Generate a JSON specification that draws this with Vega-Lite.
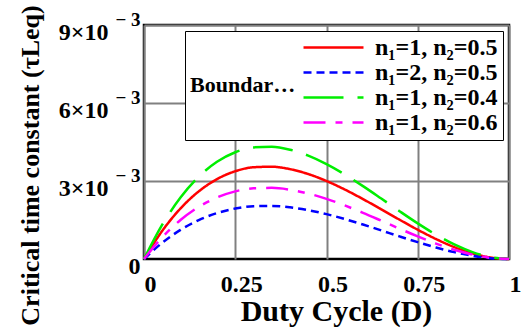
{
  "$schema": "https://vega.github.io/schema/vega-lite/v6.json",
  "width": 365,
  "height": 234,
  "autosize": {"type": "none"},
  "padding": {"left": 144, "top": 25, "right": 21, "bottom": 69},
  "background": "white",
  "config": {"view": {"stroke": "black", "strokeWidth": 2.5}},
  "data": {"values": [
    {"D":0,"t":0,"s":"n₁=1, n₂=0.5"},{"D":0.05,"t":0.001083,"s":"n₁=1, n₂=0.5"},{"D":0.1,"t":0.001944,"s":"n₁=1, n₂=0.5"},{"D":0.15,"t":0.002601,"s":"n₁=1, n₂=0.5"},{"D":0.2,"t":0.003072,"s":"n₁=1, n₂=0.5"},{"D":0.25,"t":0.003375,"s":"n₁=1, n₂=0.5"},{"D":0.3,"t":0.003528,"s":"n₁=1, n₂=0.5"},{"D":0.35,"t":0.003549,"s":"n₁=1, n₂=0.5"},{"D":0.4,"t":0.003456,"s":"n₁=1, n₂=0.5"},{"D":0.45,"t":0.003267,"s":"n₁=1, n₂=0.5"},{"D":0.5,"t":0.003,"s":"n₁=1, n₂=0.5"},{"D":0.55,"t":0.002673,"s":"n₁=1, n₂=0.5"},{"D":0.6,"t":0.002304,"s":"n₁=1, n₂=0.5"},{"D":0.65,"t":0.001911,"s":"n₁=1, n₂=0.5"},{"D":0.7,"t":0.001512,"s":"n₁=1, n₂=0.5"},{"D":0.75,"t":0.001125,"s":"n₁=1, n₂=0.5"},{"D":0.8,"t":0.000768,"s":"n₁=1, n₂=0.5"},{"D":0.85,"t":0.000459,"s":"n₁=1, n₂=0.5"},{"D":0.9,"t":0.000216,"s":"n₁=1, n₂=0.5"},{"D":0.95,"t":0.000057,"s":"n₁=1, n₂=0.5"},{"D":1,"t":0,"s":"n₁=1, n₂=0.5"},
    {"D":0,"t":0,"s":"n₁=2, n₂=0.5"},{"D":0.05,"t":0.000623,"s":"n₁=2, n₂=0.5"},{"D":0.1,"t":0.001118,"s":"n₁=2, n₂=0.5"},{"D":0.15,"t":0.001496,"s":"n₁=2, n₂=0.5"},{"D":0.2,"t":0.001766,"s":"n₁=2, n₂=0.5"},{"D":0.25,"t":0.001941,"s":"n₁=2, n₂=0.5"},{"D":0.3,"t":0.002029,"s":"n₁=2, n₂=0.5"},{"D":0.35,"t":0.002041,"s":"n₁=2, n₂=0.5"},{"D":0.4,"t":0.001987,"s":"n₁=2, n₂=0.5"},{"D":0.45,"t":0.001879,"s":"n₁=2, n₂=0.5"},{"D":0.5,"t":0.001725,"s":"n₁=2, n₂=0.5"},{"D":0.55,"t":0.001537,"s":"n₁=2, n₂=0.5"},{"D":0.6,"t":0.001325,"s":"n₁=2, n₂=0.5"},{"D":0.65,"t":0.001099,"s":"n₁=2, n₂=0.5"},{"D":0.7,"t":0.000869,"s":"n₁=2, n₂=0.5"},{"D":0.75,"t":0.000647,"s":"n₁=2, n₂=0.5"},{"D":0.8,"t":0.000442,"s":"n₁=2, n₂=0.5"},{"D":0.85,"t":0.000264,"s":"n₁=2, n₂=0.5"},{"D":0.9,"t":0.000124,"s":"n₁=2, n₂=0.5"},{"D":0.95,"t":0.000033,"s":"n₁=2, n₂=0.5"},{"D":1,"t":0,"s":"n₁=2, n₂=0.5"},
    {"D":0,"t":0,"s":"n₁=1, n₂=0.4"},{"D":0.05,"t":0.001318,"s":"n₁=1, n₂=0.4"},{"D":0.1,"t":0.002365,"s":"n₁=1, n₂=0.4"},{"D":0.15,"t":0.003165,"s":"n₁=1, n₂=0.4"},{"D":0.2,"t":0.003738,"s":"n₁=1, n₂=0.4"},{"D":0.25,"t":0.004106,"s":"n₁=1, n₂=0.4"},{"D":0.3,"t":0.004292,"s":"n₁=1, n₂=0.4"},{"D":0.35,"t":0.004318,"s":"n₁=1, n₂=0.4"},{"D":0.4,"t":0.004205,"s":"n₁=1, n₂=0.4"},{"D":0.45,"t":0.003975,"s":"n₁=1, n₂=0.4"},{"D":0.5,"t":0.00365,"s":"n₁=1, n₂=0.4"},{"D":0.55,"t":0.003252,"s":"n₁=1, n₂=0.4"},{"D":0.6,"t":0.002803,"s":"n₁=1, n₂=0.4"},{"D":0.65,"t":0.002325,"s":"n₁=1, n₂=0.4"},{"D":0.7,"t":0.00184,"s":"n₁=1, n₂=0.4"},{"D":0.75,"t":0.001369,"s":"n₁=1, n₂=0.4"},{"D":0.8,"t":0.000934,"s":"n₁=1, n₂=0.4"},{"D":0.85,"t":0.000558,"s":"n₁=1, n₂=0.4"},{"D":0.9,"t":0.000263,"s":"n₁=1, n₂=0.4"},{"D":0.95,"t":0.000069,"s":"n₁=1, n₂=0.4"},{"D":1,"t":0,"s":"n₁=1, n₂=0.4"},
    {"D":0,"t":0,"s":"n₁=1, n₂=0.6"},{"D":0.05,"t":0.000835,"s":"n₁=1, n₂=0.6"},{"D":0.1,"t":0.001499,"s":"n₁=1, n₂=0.6"},{"D":0.15,"t":0.002005,"s":"n₁=1, n₂=0.6"},{"D":0.2,"t":0.002368,"s":"n₁=1, n₂=0.6"},{"D":0.25,"t":0.002602,"s":"n₁=1, n₂=0.6"},{"D":0.3,"t":0.00272,"s":"n₁=1, n₂=0.6"},{"D":0.35,"t":0.002736,"s":"n₁=1, n₂=0.6"},{"D":0.4,"t":0.002664,"s":"n₁=1, n₂=0.6"},{"D":0.45,"t":0.002518,"s":"n₁=1, n₂=0.6"},{"D":0.5,"t":0.002313,"s":"n₁=1, n₂=0.6"},{"D":0.55,"t":0.00206,"s":"n₁=1, n₂=0.6"},{"D":0.6,"t":0.001776,"s":"n₁=1, n₂=0.6"},{"D":0.65,"t":0.001473,"s":"n₁=1, n₂=0.6"},{"D":0.7,"t":0.001166,"s":"n₁=1, n₂=0.6"},{"D":0.75,"t":0.000867,"s":"n₁=1, n₂=0.6"},{"D":0.8,"t":0.000592,"s":"n₁=1, n₂=0.6"},{"D":0.85,"t":0.000354,"s":"n₁=1, n₂=0.6"},{"D":0.9,"t":0.000167,"s":"n₁=1, n₂=0.6"},{"D":0.95,"t":0.000044,"s":"n₁=1, n₂=0.6"},{"D":1,"t":0,"s":"n₁=1, n₂=0.6"}
  ]},
  "encoding": {
    "x": {
      "field": "D", "type": "quantitative",
      "scale": {"domain": [0, 1], "nice": false},
      "axis": {
        "values": [0, 0.25, 0.5, 0.75, 1],
        "labelExpr": "toString(datum.value)",
        "labelFont": "Liberation Serif", "labelFontWeight": "bold", "labelFontSize": 24, "labelColor": "black",
        "labelBaseline": "alphabetic", "labelPadding": 32, "labelOffset": 6,
        "labelFlush": false, "labelOverlap": false, "labelBound": false,
        "ticks": false, "tickSize": 0, "domain": false,
        "grid": true, "gridColor": "#808080", "gridWidth": 2, "gridOpacity": 1,
        "title": "Duty Cycle (D)",
        "titleFont": "Liberation Serif", "titleFontWeight": "bold", "titleFontSize": 30, "titleColor": "black",
        "titleBaseline": "alphabetic", "titleX": 192, "titleY": 61, "titleAlign": "center"
      }
    }
  },
  "layer": [
    {
      "mark": {"type": "line", "strokeWidth": 2.5, "interpolate": "monotone"},
      "encoding": {
        "y": {
          "field": "t", "type": "quantitative",
          "scale": {"domain": [0, 0.009], "nice": false},
          "axis": {
            "orient": "left",
            "values": [0.003, 0.006, 0.009],
            "labelExpr": "format(datum.value*1000, '.0f') + '×10'",
            "labelFont": "Liberation Serif", "labelFontWeight": "bold", "labelFontSize": 24, "labelColor": "black",
            "labelPadding": 36, "labelOffset": 7,
            "labelFlush": false, "labelOverlap": false, "labelBound": false,
            "ticks": false, "tickSize": 0, "domain": false,
            "grid": true, "gridColor": "#808080", "gridWidth": 2, "gridOpacity": 1,
            "title": "Critical time constant (τLeq)",
            "titleFont": "Liberation Serif", "titleFontWeight": "bold", "titleFontSize": 26, "titleColor": "black",
            "titleAngle": 270, "titleBaseline": "bottom", "titleAlign": "center", "titleX": -101, "titleY": 140
          }
        },
        "color": {
          "field": "s", "type": "nominal",
          "scale": {"domain": ["n₁=1, n₂=0.5", "n₁=2, n₂=0.5", "n₁=1, n₂=0.4", "n₁=1, n₂=0.6"], "range": ["#ff0000", "#0000ff", "#00ee00", "#ff00ff"]},
          "legend": {
            "orient": "top-right", "offset": 6, "direction": "vertical",
            "title": "Boundary condition curve",
            "titleOrient": "left", "titleAnchor": "middle", "titleAlign": "left",
            "titleFont": "Liberation Serif", "titleFontWeight": "bold", "titleFontSize": 22, "titleColor": "black",
            "titlePadding": 6, "titleLimit": 112,
            "labelFont": "Liberation Serif", "labelFontWeight": "bold", "labelFontSize": 24, "labelColor": "black",
            "labelOffset": 10, "labelLimit": 300,
            "symbolType": "stroke", "symbolSize": 3600, "symbolStrokeWidth": 2.5,
            "clipHeight": 23, "rowPadding": 0, "padding": 5,
            "strokeColor": "black", "fillColor": "white", "cornerRadius": 0
          }
        },
        "strokeDash": {
          "field": "s", "type": "nominal",
          "scale": {"domain": ["n₁=1, n₂=0.5", "n₁=2, n₂=0.5", "n₁=1, n₂=0.4", "n₁=1, n₂=0.6"], "range": [[1, 0], [8, 5], [40, 14], [22, 10, 7, 10]]}
        }
      }
    },
    {
      "mark": {"type": "line", "strokeOpacity": 0},
      "encoding": {
        "detail": {"field": "s", "type": "nominal"},
        "y": {
          "field": "t", "type": "quantitative",
          "scale": {"domain": [0, 0.009], "nice": false},
          "axis": {
            "orient": "left",
            "values": [0.003, 0.006, 0.009],
            "labelExpr": "'− 3'",
            "labelFont": "Liberation Serif", "labelFontWeight": "bold", "labelColor": "black",
            "labelFontSize": 19, "labelOffset": -6, "labelPadding": 4,
            "labelFlush": false, "labelOverlap": false, "labelBound": false,
            "ticks": false, "tickSize": 0, "domain": false, "grid": false,
            "title": null
          }
        }
      }
    },
    {
      "mark": {"type": "line", "strokeOpacity": 0},
      "encoding": {
        "detail": {"field": "s", "type": "nominal"},
        "y": {
          "field": "t", "type": "quantitative",
          "scale": {"domain": [0, 0.009], "nice": false},
          "axis": {
            "orient": "left",
            "values": [0],
            "labelExpr": "'0'",
            "labelFont": "Liberation Serif", "labelFontWeight": "bold", "labelColor": "black",
            "labelFontSize": 24, "labelOffset": 7, "labelPadding": 4,
            "labelFlush": false, "labelOverlap": false, "labelBound": false,
            "ticks": false, "tickSize": 0, "domain": false, "grid": false,
            "title": null
          }
        }
      }
    }
  ],
  "resolve": {"axis": {"y": "independent"}}
}
